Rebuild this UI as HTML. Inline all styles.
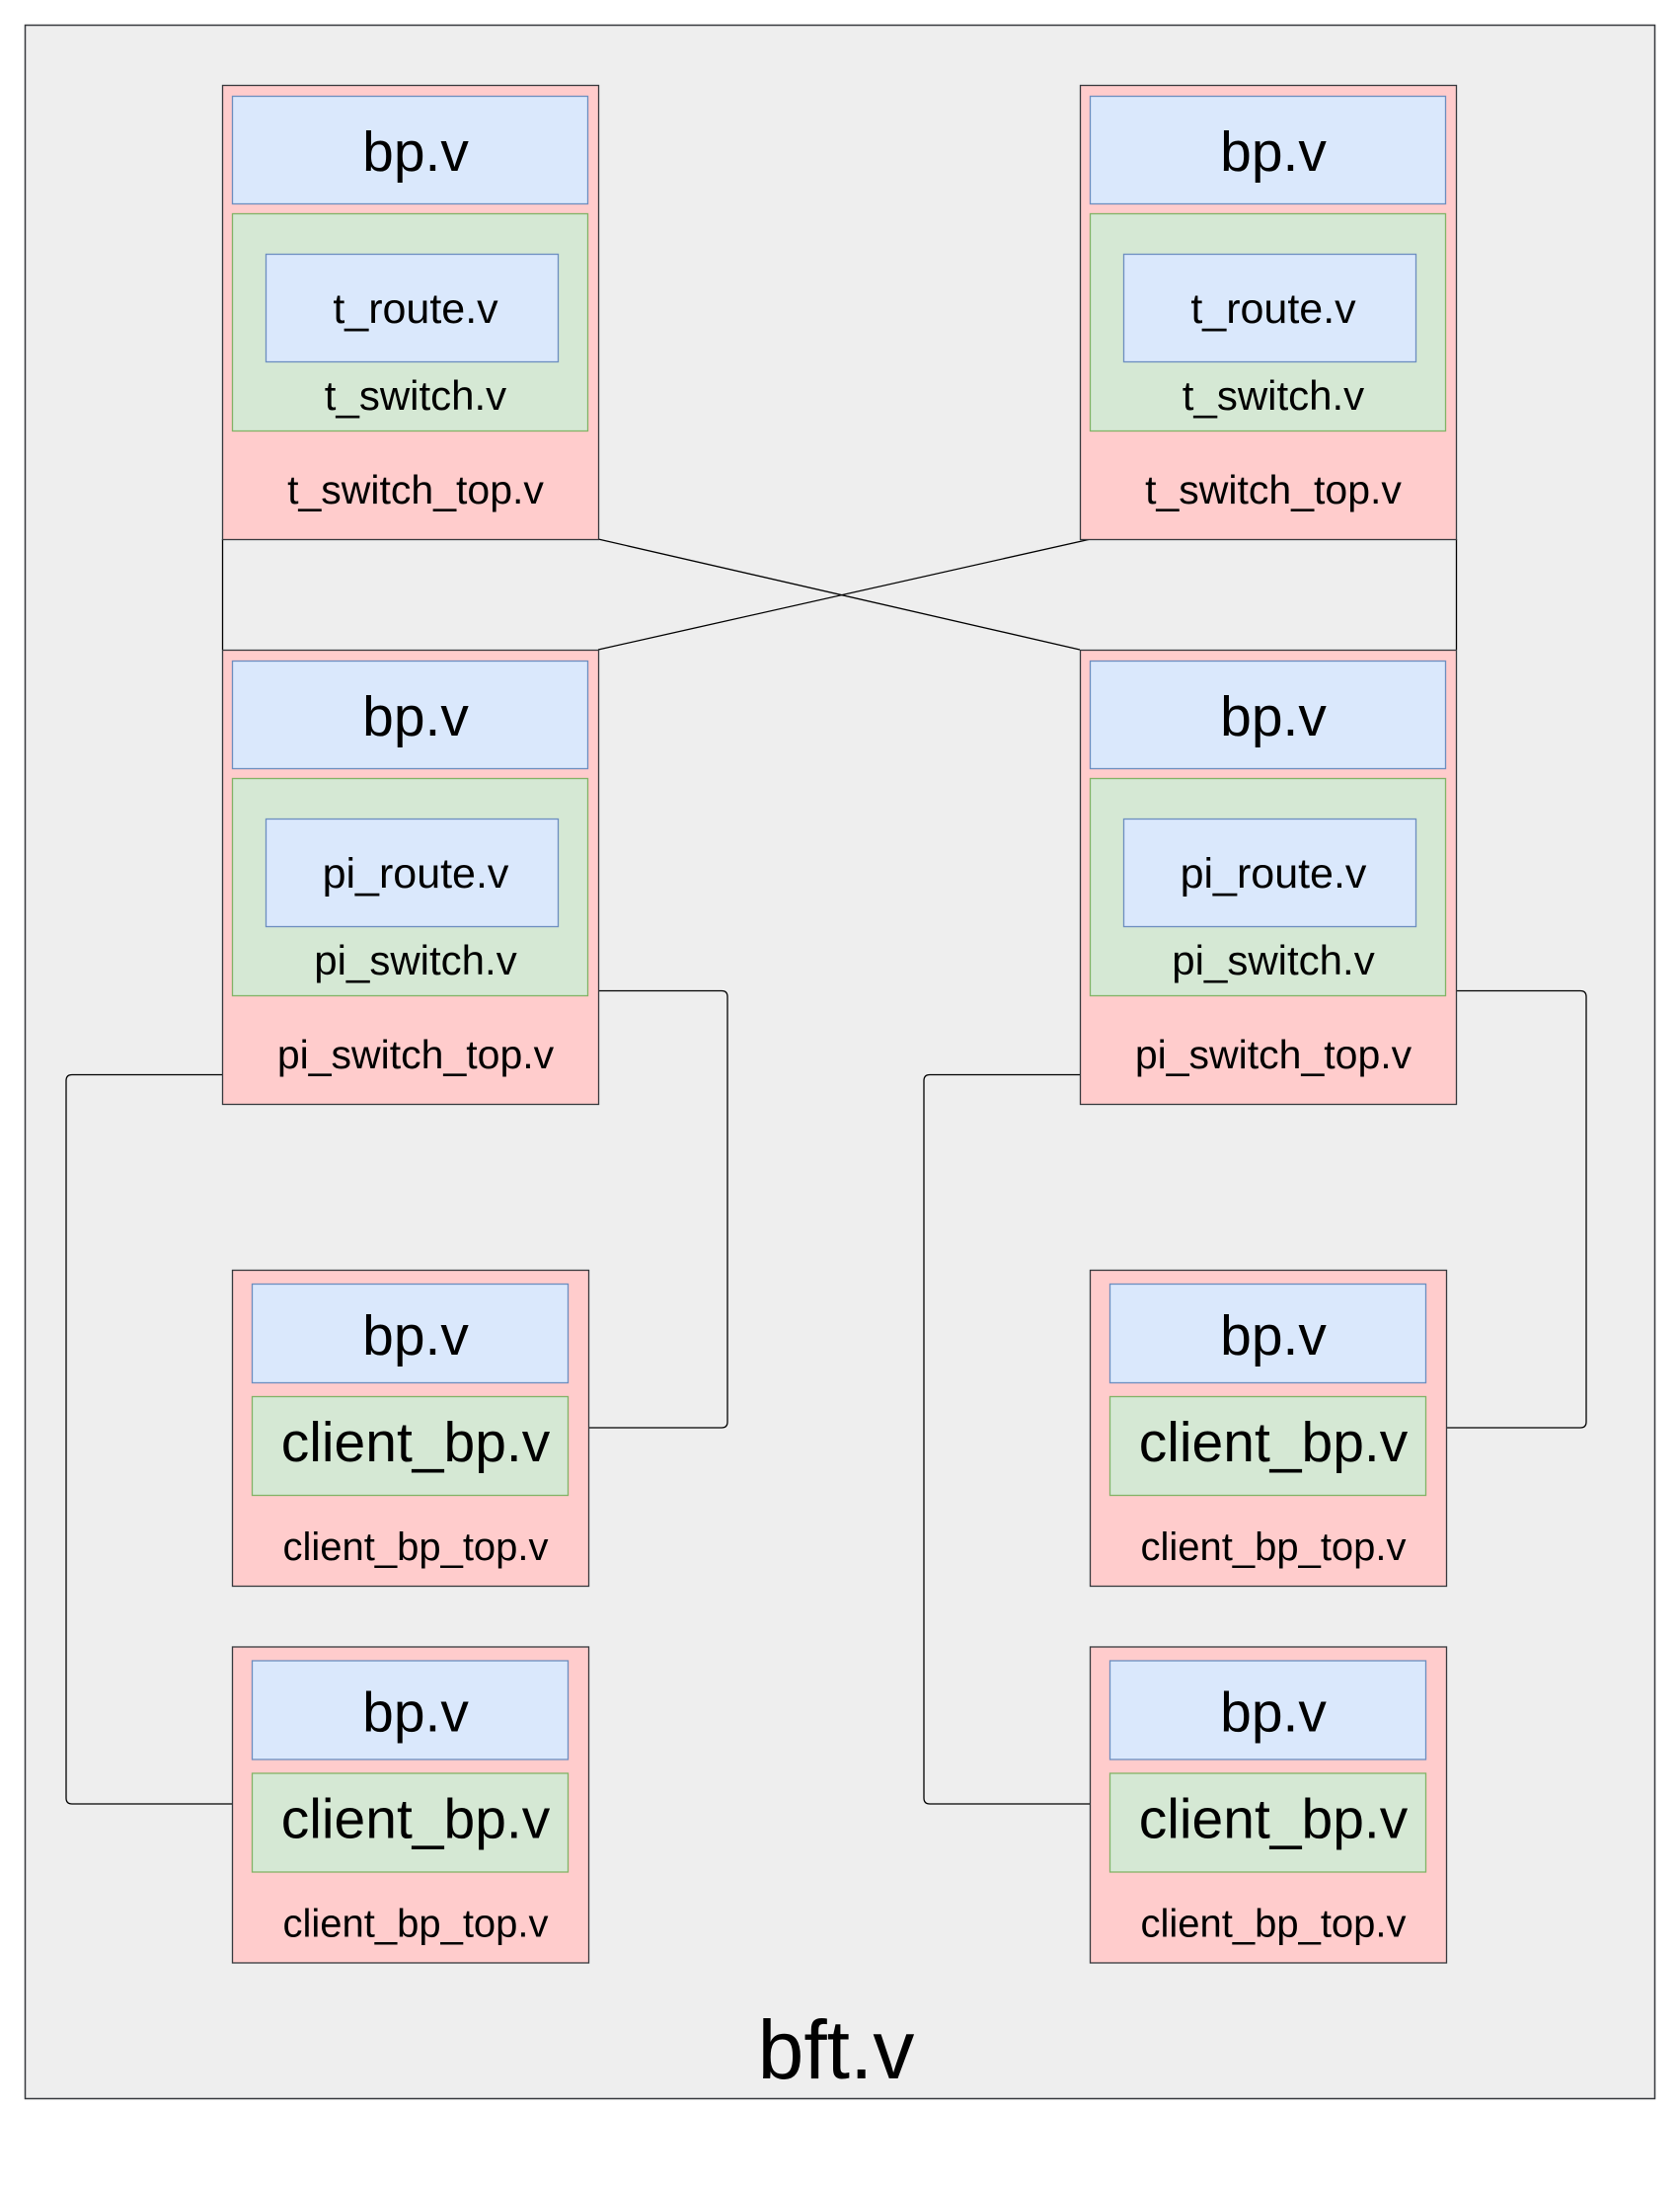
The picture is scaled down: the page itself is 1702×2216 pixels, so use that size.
<!DOCTYPE html>
<html><head><meta charset="utf-8"><style>html,body{margin:0;padding:0;background:#fff}svg{display:block}text{font-family:"Liberation Sans",Arial,sans-serif;fill:#000}</style></head>
<body>
<svg width="1702" height="2216" viewBox="0 0 1702 2216" xmlns="http://www.w3.org/2000/svg">
<rect x="25.5" y="25.5" width="1651" height="2100" fill="#eeeeee" stroke="#36393d" stroke-width="1.5"/>
<g fill="none" stroke="#000" stroke-width="1.3">
<line x1="225.5" y1="546" x2="225.5" y2="658"/>
<line x1="1475.5" y1="546" x2="1475.5" y2="658"/>
<line x1="606" y1="546" x2="1094" y2="658"/>
<line x1="1105" y1="546" x2="606" y2="658"/>
<path d="M606 1003.5 H731 q6 0 6 6 V1440 q0 6 -6 6 H596"/>
<path d="M1475 1003.5 H1601 q6 0 6 6 V1440 q0 6 -6 6 H1465"/>
<path d="M225 1088.5 H73 q-6 0 -6 6 V1821 q0 6 6 6 H235"/>
<path d="M1094 1088.5 H942 q-6 0 -6 6 V1821 q0 6 6 6 H1104"/>
</g>
<defs>
<g id="sw">
<rect x="225.5" y="86.5" width="381" height="460" fill="#ffcccc" stroke="#36393d" stroke-width="1.3"/>
<rect x="235.5" y="97.5" width="360" height="109" fill="#dae8fc" stroke="#6c8ebf" stroke-width="1.3"/>
<rect x="235.5" y="216.5" width="360" height="220" fill="#d5e8d4" stroke="#82b366" stroke-width="1.3"/>
<rect x="269.5" y="257.5" width="296" height="109" fill="#dae8fc" stroke="#6c8ebf" stroke-width="1.3"/>
<text x="421" y="173" font-size="57" text-anchor="middle">bp.v</text>
</g>
<g id="cl">
<rect x="235.5" y="1286.5" width="361" height="320" fill="#ffcccc" stroke="#36393d" stroke-width="1.3"/>
<rect x="255.5" y="1300.5" width="320" height="100" fill="#dae8fc" stroke="#6c8ebf" stroke-width="1.3"/>
<rect x="255.5" y="1414.5" width="320" height="100" fill="#d5e8d4" stroke="#82b366" stroke-width="1.3"/>
<text x="421" y="1372" font-size="57" text-anchor="middle">bp.v</text>
<text x="421" y="1480" font-size="57" text-anchor="middle">client_bp.v</text>
<text x="421" y="1580" font-size="40" text-anchor="middle">client_bp_top.v</text>
</g>
</defs>
<g>
<use href="#sw"/>
<text x="421" y="327" font-size="43" text-anchor="middle">t_route.v</text>
<text x="421" y="415" font-size="42" text-anchor="middle">t_switch.v</text>
<text x="421" y="510" font-size="41" text-anchor="middle">t_switch_top.v</text>
</g>
<g transform="translate(869,0)">
<use href="#sw"/>
<text x="421" y="327" font-size="43" text-anchor="middle">t_route.v</text>
<text x="421" y="415" font-size="42" text-anchor="middle">t_switch.v</text>
<text x="421" y="510" font-size="41" text-anchor="middle">t_switch_top.v</text>
</g>
<g transform="translate(0,572)">
<use href="#sw"/>
<text x="421" y="327" font-size="43" text-anchor="middle">pi_route.v</text>
<text x="421" y="415" font-size="42" text-anchor="middle">pi_switch.v</text>
<text x="421" y="510" font-size="41" text-anchor="middle">pi_switch_top.v</text>
</g>
<g transform="translate(869,572)">
<use href="#sw"/>
<text x="421" y="327" font-size="43" text-anchor="middle">pi_route.v</text>
<text x="421" y="415" font-size="42" text-anchor="middle">pi_switch.v</text>
<text x="421" y="510" font-size="41" text-anchor="middle">pi_switch_top.v</text>
</g>
<use href="#cl"/>
<use href="#cl" transform="translate(869,0)"/>
<use href="#cl" transform="translate(0,381.5)"/>
<use href="#cl" transform="translate(869,381.5)"/>
<text x="847" y="2105" font-size="84" text-anchor="middle">bft.v</text>
</svg>
</body></html>
